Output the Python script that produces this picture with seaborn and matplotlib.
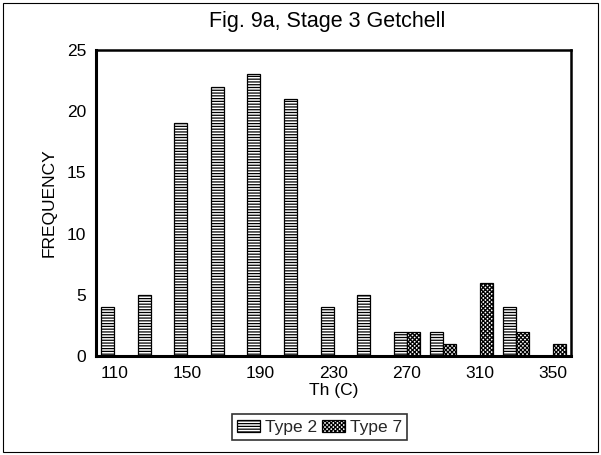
import matplotlib
matplotlib.use("Agg")
import matplotlib.pyplot as plt
from matplotlib.patches import Rectangle, Patch
import seaborn as sns
import pandas as pd
import numpy as np

# Homogenization temperature bins (C) and inclusion counts per type
th_bins = [110, 130, 150, 170, 190, 210, 230, 250, 270, 290, 310, 330, 350]
type2_counts = [4, 5, 19, 22, 23, 21, 4, 5, 2, 2, 0, 4, 0]
type7_counts = [0, 0, 0, 0, 0, 0, 0, 0, 2, 1, 6, 2, 1]
series_names = ["Type 2", "Type 7"]
tick_labels = ["110", "150", "190", "230", "270", "310", "350"]

df = pd.DataFrame({
    "Th": [str(b) for b in th_bins] * 2,
    "count": type2_counts + type7_counts,
    "type": [series_names[0]] * len(th_bins) + [series_names[1]] * len(th_bins),
})

sns.set_theme(style="white")
plt.rcParams["font.family"] = ["Liberation Sans", "DejaVu Sans"]
plt.rcParams["hatch.linewidth"] = 0.9

fig = plt.figure(figsize=(6.01, 4.55), dpi=100)
ax = fig.add_axes([0.1597, 0.2176, 0.7906, 0.6725])

sns.barplot(data=df, x="Th", y="count", hue="type", order=[str(b) for b in th_bins],
            hue_order=series_names, palette=["white", "white"], width=0.71,
            edgecolor="black", linewidth=0.9, ax=ax, legend=False, saturation=1)

hatches = {series_names[0]: "------", series_names[1]: "xxxxxxxx"}
n = len(th_bins)
for i, patch in enumerate(ax.patches[:2 * n]):
    name = series_names[i // n]
    patch.set_hatch(hatches[name])
    if patch.get_height() == 0:
        patch.set_visible(False)

ax.set_xlim(-0.5, n - 0.5)
ax.set_ylim(0, 25)
ax.set_yticks([0, 5, 10, 15, 20, 25])
ax.set_yticklabels(["0", "5", "10", "15", "20", "25"], fontsize=12.5)

# boundary ticks between bins, labels at every other bin centre
ax.set_xticks(np.arange(-0.5, n, 1.0))
ax.set_xticklabels([])
ax.set_xticks(np.arange(0, n, 2), minor=True)
ax.set_xticklabels(tick_labels, minor=True, fontsize=12.5)
ax.tick_params(axis="x", which="major", direction="inout", length=6, width=0.9, colors="black")
ax.tick_params(axis="x", which="minor", length=0, pad=7, labelcolor="black")
ax.tick_params(axis="y", direction="inout", length=6, width=0.9, colors="black", pad=4)
ax.tick_params(axis="both", labelcolor="black")

for side in ["left", "bottom"]:
    ax.spines[side].set_linewidth(2.2)
for side in ["top", "right"]:
    ax.spines[side].set_linewidth(1.8)
for sp in ax.spines.values():
    sp.set_color("black")

ax.set_xlabel("Th (C)", fontsize=12.5, color="black", labelpad=2)
ax.set_ylabel("FREQUENCY", fontsize=12.5, color="black", labelpad=7)
fig.text(0.544, 0.952, "Fig. 9a, Stage 3 Getchell", ha="center", va="center",
         fontsize=15.5, color="black")

handles = [Patch(facecolor="white", edgecolor="black", hatch=hatches[s], linewidth=0.9)
           for s in series_names]
leg = fig.legend(handles, series_names, loc="center", bbox_to_anchor=(0.532, 0.061),
                 ncol=2, frameon=True, fontsize=12.5, handlelength=1.3, handleheight=0.75,
                 handletextpad=0.3, columnspacing=0.3, borderpad=0.3,
                 fancybox=False, edgecolor="black")
leg.get_frame().set_linewidth(1.2)

fig.patches.append(Rectangle((0.005, 0.007), 0.99, 0.986, transform=fig.transFigure,
                             fill=False, edgecolor="black", linewidth=0.8))

fig.savefig("out.png", dpi=100, facecolor="white")
